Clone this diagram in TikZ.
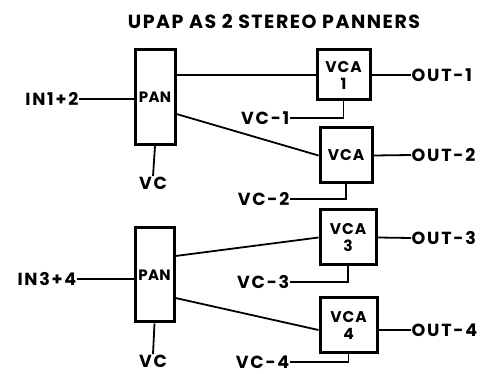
\documentclass[tikz,border=0pt]{standalone}
\usepackage{fontspec}
\setmainfont{Poppins}
\usetikzlibrary{calc}
\begin{document}
\begin{tikzpicture}[x=1pt,y=-1pt,
  lbl/.style={font=\fontsize{17.5}{16}\selectfont\bfseries\addfontfeatures{LetterSpace=10}, inner sep=0.5pt},
  box/.style={draw, line width=3pt, inner sep=0pt, align=center, font=\fontsize{15.5}{17}\selectfont\bfseries\addfontfeatures{LetterSpace=6}},
  panbox/.style={box, font=\fontsize{15}{15}\selectfont\bfseries\addfontfeatures{LetterSpace=2}},
  wire/.style={line width=1.8pt}]
\useasboundingbox (0,0) rectangle (493,374);
\node[font=\fontsize{19}{18}\selectfont\bfseries\addfontfeatures{LetterSpace=8}] (title) at (274,21) {UPAP AS 2 STEREO PANNERS};
% group 1
\node[panbox, minimum width=40pt, minimum height=95pt] (pan1) at (155,97) {PAN};
\node[box, minimum width=53pt, minimum height=50pt] (vca1) at (343.5,75) {VCA\\1};
\node[box, minimum width=52pt, minimum height=55pt] (vca2) at (346,155.5) {VCA};
\node[lbl, anchor=east] (in1) at (79,99) {IN1+2};
\node[lbl] (vcp1) at (153,183) {VC};
\node[lbl, anchor=east] (vc1) at (290,118) {VC-1};
\node[lbl, anchor=east] (vc2) at (290,199) {VC-2};
\node[lbl, anchor=west] (out1) at (411,75) {OUT-1};
\node[lbl, anchor=west] (out2) at (411,155) {OUT-2};
\draw[wire] (in1.east) -- (pan1.west |- in1.east);
\draw[wire] (pan1.east |- vca1.west) -- (vca1.west);
\draw[wire] ($(pan1.east)+(0,17)$) -- (vca2.west);
\draw[wire] (pan1.south) -- (vcp1.north);
\draw[wire] (vc1.east) -| (vca1.south);
\draw[wire] (vc2.east) -| (vca2.south);
\draw[wire] (vca1.east) -- (out1.west);
\draw[wire] (vca2.east) -- (out2.west);
% group 2
\node[panbox, minimum width=39pt, minimum height=94pt] (pan2) at (154.5,275) {PAN};
\node[box, minimum width=56pt, minimum height=55pt] (vca3) at (348,237.5) {VCA\\3};
\node[box, minimum width=57pt, minimum height=54pt] (vca4) at (348.5,325) {VCA\\4};
\node[lbl, anchor=east] (in2) at (77,279) {IN3+4};
\node[lbl] (vcp2) at (153,361) {VC};
\node[lbl, anchor=east] (vc3) at (290,282) {VC-3};
\node[lbl, anchor=east] (vc4) at (290,362) {VC-4};
\node[lbl, anchor=west] (out3) at (411,238) {OUT-3};
\node[lbl, anchor=west] (out4) at (411,330) {OUT-4};
\draw[wire] (in2.east) -- (pan2.west |- in2.east);
\draw[wire] ($(pan2.east)+(0,-19)$) -- (vca3.west);
\draw[wire] ($(pan2.east)+(0,23)$) -- ($(vca4.west)+(0,5)$);
\draw[wire] (pan2.south) -- (vcp2.north);
\draw[wire] (vc3.east) -| (vca3.south);
\draw[wire] (vc4.east) -| (vca4.south);
\draw[wire] (vca3.east) -- (out3.west);
\draw[wire] ($(vca4.east)+(0,5)$) -- (out4.west);
\end{tikzpicture}
\end{document}
